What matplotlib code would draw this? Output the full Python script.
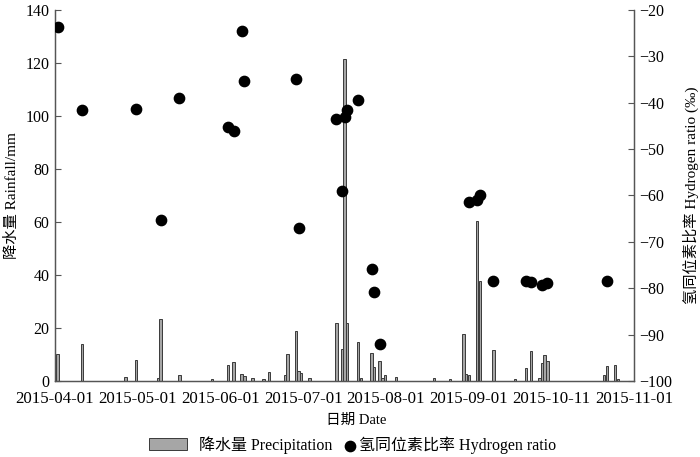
import matplotlib
matplotlib.use('Agg')
import matplotlib.pyplot as plt
import pandas as pd

start = pd.Timestamp('2015-04-01')

# daily rainfall (mm)
rain_dates = ['2015-04-01', '2015-04-02', '2015-04-11', '2015-04-27', '2015-05-01', '2015-05-09',
              '2015-05-10', '2015-05-17', '2015-05-29', '2015-06-04', '2015-06-06', '2015-06-09',
              '2015-06-10', '2015-06-13', '2015-06-17', '2015-06-19', '2015-06-25', '2015-06-26',
              '2015-06-29', '2015-06-30', '2015-07-01', '2015-07-04', '2015-07-14', '2015-07-16',
              '2015-07-17', '2015-07-18', '2015-07-22', '2015-07-23', '2015-07-27', '2015-07-28',
              '2015-07-30', '2015-07-31', '2015-08-01', '2015-08-05', '2015-08-19', '2015-08-25',
              '2015-08-30', '2015-08-31', '2015-09-01', '2015-09-04', '2015-09-05', '2015-09-10',
              '2015-09-18', '2015-09-22', '2015-09-24', '2015-09-27', '2015-09-28', '2015-09-29',
              '2015-09-30', '2015-10-21', '2015-10-22', '2015-10-25', '2015-10-26']
rain_mm = [2.5, 10.2, 14.1, 1.6, 8.0, 1.0,
           23.3, 2.1, 0.6, 6.0, 7.3, 2.5,
           2.0, 1.3, 0.7, 3.3, 2.3, 10.1,
           19.0, 3.8, 3.2, 1.1, 22.0, 12.1,
           121.5, 22.0, 14.7, 1.3, 10.4, 5.2,
           7.7, 1.3, 2.3, 1.5, 1.1, 0.9,
           17.9, 2.5, 2.3, 60.2, 37.6, 11.7,
           0.9, 4.9, 11.2, 1.3, 6.9, 9.9,
           7.7, 2.1, 5.7, 5.9, 0.9]

# hydrogen isotope ratio (permil)
iso_dates = ['2015-04-02', '2015-04-11', '2015-05-01', '2015-05-10', '2015-05-17', '2015-06-04',
             '2015-06-06', '2015-06-09', '2015-06-10', '2015-06-29', '2015-06-30', '2015-07-14',
             '2015-07-16', '2015-07-17', '2015-07-18', '2015-07-22', '2015-07-27', '2015-07-28',
             '2015-07-30', '2015-09-01', '2015-09-04', '2015-09-05', '2015-09-10', '2015-09-22',
             '2015-09-24', '2015-09-28', '2015-09-30', '2015-10-22']
iso_ratio = [-23.7, -41.6, -41.4, -65.2, -38.9, -45.2,
             -46.1, -24.5, -35.4, -34.9, -67.1, -43.4,
             -59.0, -43.0, -41.6, -39.3, -75.9, -80.8,
             -92.0, -61.4, -61.0, -60.0, -78.4, -78.5,
             -78.7, -79.4, -78.9, -78.4]

tick_labels = ['2015-04-01', '2015-05-01', '2015-06-01', '2015-07-01',
               '2015-08-01', '2015-09-01', '2015-10-11', '2015-11-01']

plt.rcParams['font.family'] = ['Liberation Serif', 'Noto Sans CJK SC']
plt.rcParams['font.size'] = 11.5

rain_x = (pd.to_datetime(rain_dates) - start).days
iso_x = (pd.to_datetime(iso_dates) - start).days
span = (pd.Timestamp('2015-11-01') - start).days

fig = plt.figure(figsize=(7, 4.57), dpi=100)
ax = fig.add_axes([55 / 700, 1 - 381 / 457, 579 / 700, 371 / 457])
ax2 = ax.twinx()

bars = ax.bar(rain_x, rain_mm, width=0.9, color='#a6a6a6', edgecolor='#3a3a3a',
              linewidth=0.7)
pts = ax2.scatter(iso_x, iso_ratio, s=55, color='black', zorder=3)

ax.set_xlim(0, span)
ax.set_ylim(0, 140)
ax.set_yticks(range(0, 141, 20))
ax2.set_ylim(-100, -20)
ax2.set_yticks(range(-100, -19, 10))
ax.set_xticks([span * i / 7 for i in range(8)])
ax.set_xticklabels(tick_labels, fontsize=12.2)

for a in (ax, ax2):
    a.spines['top'].set_visible(False)
    for s in ('left', 'right', 'bottom'):
        a.spines[s].set_color('#555555')
        a.spines[s].set_linewidth(0.9)
ax.tick_params(axis='y', direction='in', length=4, color='#555555', pad=4)
ax2.tick_params(axis='y', direction='in', length=4, color='#555555', pad=4)
ax.tick_params(axis='x', length=0, pad=7)

ax.set_ylabel('降水量 Rainfall/mm', fontsize=11)
ax.yaxis.set_label_coords(-0.062, 0.5)
ax2.set_ylabel('氢同位素比率 Hydrogen ratio (‰)', rotation=90, fontsize=11)
ax2.yaxis.set_label_coords(1.084, 0.5)
ax.set_xlabel('日期 Date', fontsize=10.5)
ax.xaxis.set_label_coords(0.52, -0.088)

fig.legend([bars], ['降水量 Precipitation'], loc='center left',
           bbox_to_anchor=(149 / 700, 1 - 445 / 457), frameon=False,
           borderpad=0, borderaxespad=0, handlelength=2.4, handleheight=0.75,
           handletextpad=0.7)
fig.legend([pts], ['氢同位素比率 Hydrogen ratio'], loc='center left',
           bbox_to_anchor=(344 / 700, 1 - 445 / 457), frameon=False,
           borderpad=0, borderaxespad=0, handlelength=0.7, handletextpad=0.25)

fig.savefig('out.png', dpi=100)
